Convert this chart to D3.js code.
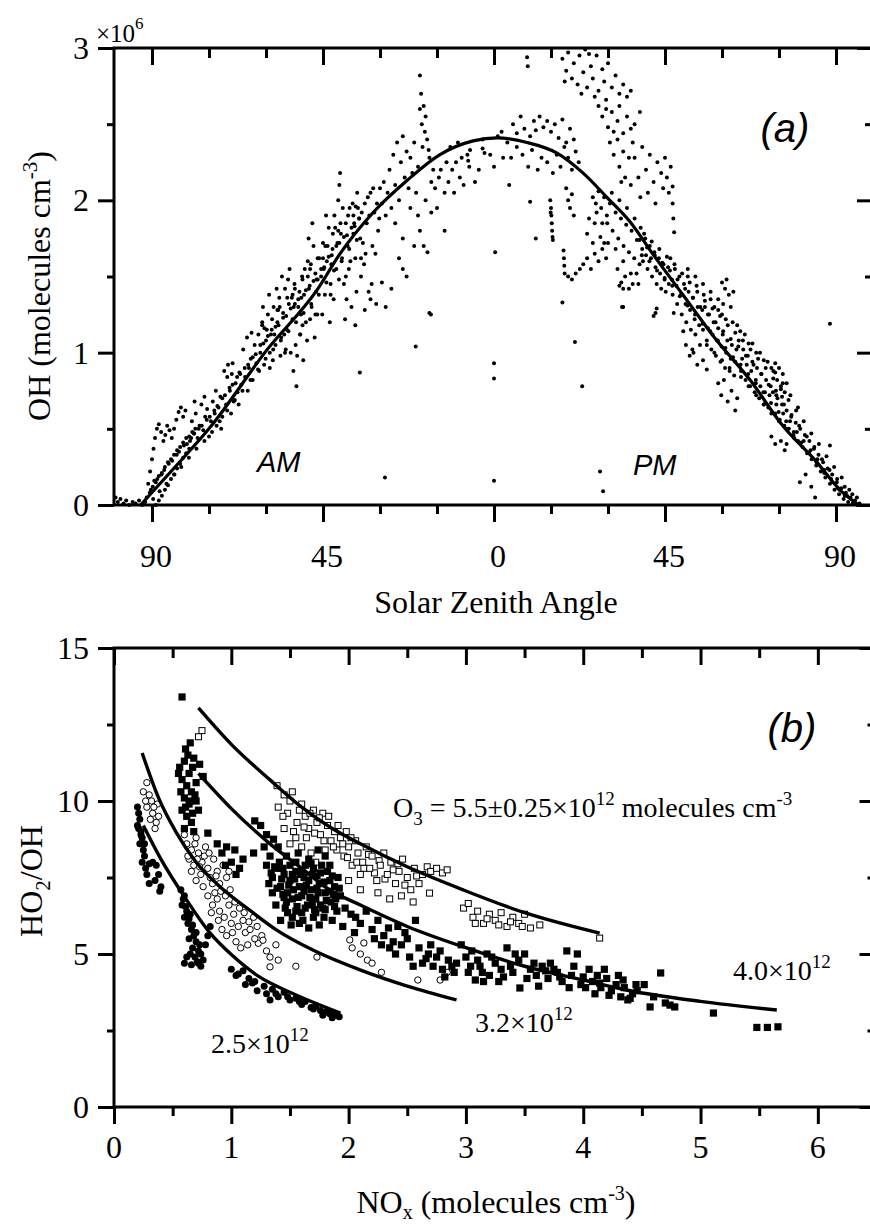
<!DOCTYPE html>
<html>
<head>
<meta charset="utf-8">
<script src="https://cdn.jsdelivr.net/npm/d3@7"></script>
<style>
  html, body { margin: 0; padding: 0; background: #fff; overflow: hidden; }
  svg { display: block; }
  svg text { font-family: "Liberation Serif", "Times New Roman", serif; fill: #000; }
</style>
</head>
<body>
<svg id="chart" width="870" height="1228"></svg>
<script>
const SERIF = "Liberation Serif, Times New Roman, serif";
const SANS = "Liberation Sans, Arial, sans-serif";

// ---- panel (a): OH (1e6 molecules cm-3) vs solar zenith angle; AM angles stored negative ----
const amPoints = [
  [-99.6,0.05],[-99,0.02],[-98.3,0.04],[-97.5,0.01],[-96.8,0.03],[-96,0.0],[-95.1,0.02],[-94.3,0.01],[-93.4,0.03],[-92.6,0.0],[-91.8,0.02],
  [-89,0.0],[-88.2,0.03],[-87.4,0.06],[-86.6,0.1],[-85.8,0.13],[-85,0.17],[-84.2,0.2],[-83.4,0.24],[-82.6,0.27],[-81.8,0.31],[-81,0.34],[-80.2,0.37],
  [-91.4,0.05],[-90.6,0.08],[-89.8,0.12],[-89,0.15],[-88.2,0.19],[-87.4,0.21],[-86.6,0.25],[-85.8,0.28],[-85,0.3],[-84.2,0.33],[-83.4,0.36],[-82.6,0.38],[-81.8,0.41],[-81,0.44],[-80.2,0.45],[-79.4,0.48],[-78.6,0.5],
  [-91,0.14],[-90.5,0.22],[-90,0.3],[-89.6,0.37],[-89.2,0.44],[-88.7,0.5],[-88.2,0.53],[-87.6,0.48],[-87,0.42],[-86.5,0.46],[-86,0.52],[-85.4,0.49],[-84.8,0.44],[-84.2,0.5],[-83.6,0.56],[-83,0.61],[-82.4,0.64],[-81.8,0.58],[-81.2,0.62],
  [-80,0.42],[-79.5,0.55],[-79,0.47],[-78.5,0.6],[-78,0.44],[-77.5,0.52],[-77,0.66],[-76.5,0.49],[-76,0.58],[-75.5,0.63],[-75,0.45],[-74.5,0.55],[-74,0.68],[-73.5,0.6],[-73,0.52],[-72.5,0.64],[-72,0.71],[-71.5,0.58],[-71,0.88],[-70.5,0.66],[-70,0.92],[-69.5,0.75],[-69,0.86],[-68.5,0.68],[-68,0.8],[-67.5,0.74],[-67,0.87],[-66.5,0.79],[-66,1.02],[-65.5,0.84],[-65,1.1],[-64.5,0.9],[-64,0.96],[-63.5,0.82],[-63,1.05],[-62.5,0.93],[-62,1.12],
  [-78.8,0.68],[-76.2,0.71],[-73.2,0.75],[-71.8,0.5],[-69.2,0.6],[-67.2,0.66],[-64.8,0.75],[-63.8,1.13],[-70.2,0.84],[-68.8,0.93],
  [-61.5,1.0],[-61,1.18],[-60.5,0.92],[-60,1.08],[-59.5,1.25],[-59,1.0],[-58.5,1.15],[-58,1.3],[-57.5,1.05],[-57,1.2],[-56.5,1.36],[-56,1.1],[-55.5,1.26],[-55,1.42],[-54.5,1.15],[-54,1.32],[-53.5,1.0],[-53,1.22],[-52.5,1.45],[-52,0.78],[-51.5,1.3],[-51,1.12],[-50.5,1.5],[-50,1.38],[-49.5,1.2],[-49,1.6],[-48.5,1.44],[-48,1.3],[-47.5,1.7],[-47,1.52],[-46.5,1.25],[-46,1.62],
  [-60.8,1.3],[-59.2,1.38],[-58.2,0.95],[-57.2,1.42],[-56.2,0.98],[-55.2,1.12],[-54.2,1.48],[-53.2,1.36],[-52.2,1.05],[-51.2,1.4],[-50.2,0.95],[-49.2,1.08],[-48.2,1.58],[-47.2,1.1],[-52.8,0.88],[-51.8,0.98],[-50.8,1.25],[-49.8,1.55],[-48.8,1.75],[-47.8,1.85],[-46.8,1.4],[-53.8,1.55],[-55.8,1.5],[-57.8,1.12],[-59.8,1.15],[-61.8,0.88],[-56.8,1.28],[-54.8,1.02],[-52.4,1.32],[-50.4,1.18],[-48.4,1.22],[-46.4,1.48],
  [-45.5,1.5],[-45,1.72],[-44.5,1.38],[-44,1.6],[-43.5,1.82],[-43,1.45],[-42.5,1.68],[-42,1.9],[-41.5,1.55],[-41,2.0],[-40.7,2.1],[-40.5,2.18],[-40.3,1.78],[-40,1.62],[-39.5,1.45],[-39,1.85],[-38.5,1.7],[-38,1.95],[-37.5,1.3],[-37,1.78],[-36.5,1.62],[-36,2.05],[-35.5,1.88],[-35,1.5],[-34.5,1.72],[-34,1.98],[-33.5,1.85],[-33,1.4],[-32.5,2.05],[-32,1.7],[-31.5,1.92],[-31,1.32],[-30.5,1.8],[-30,2.08],
  [-45.2,1.25],[-44.2,1.9],[-43.2,1.2],[-42.2,1.35],[-41.2,1.72],[-39.2,1.22],[-38.2,1.55],[-37.2,1.98],[-36.2,1.4],[-35.2,1.75],[-34.2,1.58],[-33.2,2.02],[-32.2,1.45],[-31.2,1.65],[-30.2,1.88],[-44.8,1.55],[-43.8,1.7],[-42.8,1.58],[-41.8,1.82],[-40.8,1.48],[-39.8,1.95],[-38.8,1.35],[-37.8,1.6],[-36.8,1.85],[-35.8,1.95],[-34.8,1.92],[-33.8,1.65],[-32.8,1.9],[-31.8,2.08],[-30.8,1.98],[-35.3,0.87],[-36.5,1.18],[-34,1.28],[-32.5,1.35],[-29.5,1.46],[-28.5,1.3],
  [-29.5,1.98],[-29,2.12],[-28.5,1.9],[-28,2.05],[-27.5,2.2],[-27,1.95],[-26.5,2.3],[-26,2.1],[-25.5,2.38],[-25,2.0],[-24.5,2.25],[-24,2.42],[-23.5,2.15],[-23,2.32],[-22.5,2.08],[-22,2.28],[-21.5,2.18],[-21,2.38],[-20.5,2.05],[-20,2.22],[-19.5,2.82],[-19.5,2.6],[-19.2,2.7],[-19,2.5],[-18.8,2.35],[-18.5,2.62],[-18.2,2.45],[-18,2.55],[-17.6,2.4],[-17.2,2.33],[-17,2.28],[-16.5,2.12],[-16,2.2],
  [-28.7,0.18],[-27,1.42],[-25,1.62],[-24,1.55],[-23,1.5],[-19.5,1.8],[-18.5,1.7],[-17.5,1.66],[-16.6,1.25],[-20.6,1.04],[-13,1.8],[-26,1.85],[-24,1.75],[-22,1.95],[-21,1.7],[-20,1.9],[-18,2.0],[-16.5,1.92],[-15,1.95],[-14.5,2.15],[-17,1.26],
  [-15.5,2.08],[-14,2.2],[-13,2.05],[-12.5,2.25],[-12,2.12],[-11,2.2],[-10.5,2.05],[-10,2.25],[-9,2.15],[-8.5,2.28],[-8,2.1],[-7,2.3],[-6.8,2.26],[-6.5,2.22],[-6.3,2.33],[-5,2.12],[-4,2.2],[-3,2.4],[-3,2.34],[-2.5,2.31],[-1,2.3],[0,2.22],[-11.5,2.35],[-9.5,2.38],
  [0,0.93],[0,0.83],[0,0.16],[0.3,1.66],[2.4,2.28]
];
// dense core of the AM band, close to the fitted curve
const amCore = [
  [-90.3,0.1],[-89.7,0.04],[-89.4,0.16],[-88.6,0.17],[-88,0.09],[-87.5,0.2],[-86.8,0.23],[-86.2,0.14],[-85.6,0.27],
  [-84.7,0.29],[-84.1,0.2],[-83.5,0.33],[-82.9,0.35],[-82.3,0.25],[-81.6,0.39],[-80.8,0.4],[-80.3,0.31],[-79.7,0.44],
  [-78.9,0.47],[-78.3,0.37],[-77.7,0.5],[-76.9,0.52],[-76.2,0.42],[-75.6,0.56],[-74.8,0.58],[-74.2,0.48],[-73.6,0.62],
  [-72.8,0.65],[-72.2,0.55],[-71.5,0.7],[-70.8,0.72],[-70.2,0.62],[-69.6,0.77],[-68.8,0.79],[-68.2,0.69],[-67.6,0.84],
  [-66.8,0.86],[-66.2,0.75],[-65.6,0.9],[-64.7,0.92],[-64.1,0.82],[-63.5,0.97],[-62.7,0.99],[-62.1,0.89],[-61.5,1.05],
  [-60.7,1.06],[-60.1,0.96],[-59.5,1.11],[-58.7,1.12],[-58.1,1.02],[-57.5,1.17],[-56.7,1.18],[-56.1,1.08],[-55.5,1.23],
  [-54.7,1.24],[-54.1,1.14],[-53.5,1.29],[-52.7,1.3],[-52.1,1.2],[-51.5,1.35],[-50.7,1.36],[-50.1,1.26],[-49.5,1.41],
  [-48.7,1.42],[-48.1,1.32],[-47.5,1.47],[-46.7,1.48],[-46.1,1.38],[-45.5,1.55],[-44.7,1.56],[-44.1,1.46],[-43.5,1.63],
  [-42.7,1.64],[-42.1,1.54],[-41.5,1.7],[-40.7,1.72],[-40.1,1.6],[-39.5,1.76],[-38.7,1.77],[-38.1,1.68],[-37.5,1.82],
  [-36.7,1.83],[-36.1,1.74],[-35.5,1.88],
  [-61,1.2],[-59,0.9],[-57,1.28],[-55,1.0],[-53,1.38],[-51,1.12],[-49,1.5],[-47,1.25],[-45,1.62],[-43,1.38],[-41,1.8],[-39,1.5],[-37,1.9],[-35,1.62],
  [-60.4,1.16],[-58.4,1.22],[-56.4,1.3],[-54.4,1.36],[-52.4,1.42],[-50.4,1.48],[-48.4,1.55],[-46.4,1.62],[-44.4,1.7],[-42.4,1.78],[-40.4,1.85],[-38.4,1.9],[-36.4,1.96]
];

const pmPoints = [
  [1,2.42],[2,2.45],[3.5,2.38],[5,2.5],[6,2.44],[7,2.55],[8,2.47],[8.7,2.94],[8.9,2.88],[9.5,2.42],[10.5,2.52],[11,2.46],[12,2.55],[13,2.48],[14,2.52],[15,2.45],[16,2.5],[17,2.41],[18,2.53],[19,2.38],[20,2.47],[21,2.4],
  [7.5,2.3],[9,2.22],[10,2.33],[11.5,2.2],[12.5,2.28],[14,2.25],[15.5,2.18],[16.5,2.3],[17.5,2.22],[18.5,2.35],[19.5,2.28],[20.5,2.2],[21.5,2.32],[22.3,2.25],[4,2.1],[6,2.35],[9.5,1.99],[11,1.75],[4.5,2.28],
  [18,2.93],[19,2.85],[19.5,2.97],[20.5,2.8],[21,2.9],[22,2.76],[22.5,2.95],[23.5,2.84],[24,2.99],[24.5,2.74],[25.5,2.88],[26,2.8],[27,2.95],[27.5,2.72],[28.5,2.86],[29,2.78],[30,2.9],[31,2.74],[32,2.82],[33,2.7],[34,2.76],[35,2.68],[36,2.72],[18.6,2.78],[23,2.7],[25,2.96],[26.5,2.68],[29.5,2.66],
  [27.5,2.62],[28.5,2.55],[29.5,2.6],[30,2.48],[31,2.58],[31.5,2.45],[32.5,2.52],[33,2.62],[34,2.44],[35,2.55],[36,2.47],[37,2.5],[38.4,2.58],
  [30.5,2.38],[31.5,2.3],[32.5,2.4],[33,2.22],[34,2.32],[34.5,2.15],[35.5,2.28],[36,2.1],[36.5,2.38],[33.5,2.12],
  [37,2.28],[38,2.15],[39,2.35],[40,2.2],[41,2.3],[42,2.12],[43,2.25],[44,2.18],[44.5,2.08],[45,2.28],[45.5,2.15],[46,2.05],[46.5,2.22],[47,2.09],[47,1.98],[47.2,1.88],[47.4,1.79],[38.5,2.02],[40.5,2.05],[42.5,1.98],
  [14.8,2.0],[15,1.95],[15.1,1.9],[15.2,1.85],[15.3,1.8],[15.4,1.76],[15.5,1.74],[14.9,1.92],
  [19,2.08],[19.5,2.0],[20,1.95],[20.5,2.04],[21,1.9],
  [18.3,1.67],[18.4,1.62],[18.5,1.57],[18.6,1.52],[19.5,1.5],[20.5,1.48],[21.5,1.52],[22.6,1.55],[18,1.33],
  [23.5,1.58],[24.5,1.62],[25.5,1.55],[26.5,1.65],[27.5,1.6],[28.5,1.68],[29.5,1.62],
  [24.5,1.78],[25,1.88],[26,1.72],[26.5,1.85],[27,1.92],[28,1.76],[28.5,1.85],[29,1.72],[29.7,1.9],
  [26,2.02],[26.8,1.98],[27.5,2.06],[28.2,1.95],[29,2.02],[29.8,1.85],[30.5,1.98],[31.2,1.8],[32,1.92],[32.7,1.75],[33.4,1.88],[34.1,1.7],[34.8,1.84],[35.5,1.66],[36.2,1.8],[36.9,1.62],[37.6,1.74],[38.3,1.58],[31,2.05],[33,2.0],[35,1.95],[37,1.88],[30,1.72],[32,1.68],[34,1.6],[36,1.52],[38,1.45],
  [32.5,1.55],[33.5,1.46],[34.5,1.5],[35.5,1.42],[36.5,1.45],[37.5,1.52],
  [34,1.42],[34,1.3],[33.7,1.3],[33,1.44],[42.8,1.29],[42.5,1.26],[42,1.24],[21.3,1.07],[23.2,0.78],[27.9,0.22],[28.7,0.09],
  [38.6,1.82],[39.2,1.6],[39.8,1.75],[40.4,1.55],[41,1.7],[41.6,1.5],[42.2,1.66],[42.8,1.45],[43.4,1.62],[44,1.42],[44.6,1.58],[45.2,1.4],[45.8,1.56],[39,1.68],[40,1.64],[41.3,1.62],[42.5,1.56],[43.7,1.52],[44.9,1.48],[46,1.45],
  [46.4,1.62],[47,1.38],[47.6,1.55],[48.2,1.32],[48.8,1.5],[49.4,1.25],[50,1.45],[50.6,1.2],[51.2,1.4],[51.8,1.15],[52.4,1.36],[53,1.12],[53.6,1.3],[54.2,1.05],[54.8,1.28],[46.8,1.48],[48,1.44],[49.2,1.38],[50.4,1.32],[51.6,1.28],[52.8,1.22],[54,1.18],[55,1.15],[47.3,1.26],[49.8,1.14],[52.2,1.02],[51,1.5],[53.3,1.44],[55.2,1.38],
  [50.5,1.05],[51.5,0.98],[52.5,1.0],[53.5,0.92],[55,0.95],[56,0.89],
  [55.5,1.3],[56,1.08],[56.6,1.25],[57.2,1.02],[57.8,1.2],[58.4,0.98],[59,1.16],[59.6,0.94],[60.2,1.12],[60.8,0.9],[61.4,1.08],[62,0.88],[62.6,1.05],[63.2,0.85],[63.8,1.02],[56.3,1.16],[57.5,1.12],[58.7,1.08],[59.9,1.04],[61.1,1.0],[62.3,0.96],[63.5,0.94],[57,1.35],[58,1.3],[59,1.28],[60,1.25],[61,1.22],[60.3,1.32],[60.8,1.42],[61.2,1.48],[61.8,1.38],[62.3,1.3],[62.8,1.2],[63,1.4],[60,1.46],
  [59,0.8],[59.8,0.72],[60.5,0.82],[61.5,0.68],[62.5,0.75],[63.5,0.62],[64,0.7],
  [64.4,1.08],[65,0.88],[65.6,1.02],[66.2,0.82],[66.8,0.98],[67.4,0.78],[68,0.94],[68.6,0.74],[69.2,0.9],[69.8,0.7],[70.4,0.86],[71,0.66],[71.6,0.82],[72.2,0.64],[72.8,0.78],[65.3,0.96],[66.5,0.92],[67.7,0.88],[68.9,0.82],[70.1,0.78],[71.3,0.74],[72.5,0.72],[64.8,1.14],[67,1.06],[69,1.0],[71,0.95],[73,0.9],
  [73.5,0.88],[74,0.93],[74.5,0.82],[75,0.9],[75.5,0.78],[76,0.86],[76.5,0.74],[77,0.8],[74.2,0.75],[75.8,0.71],
  [73.4,0.74],[74,0.6],[74.6,0.7],[75.2,0.56],[75.8,0.66],[76.4,0.52],[77,0.62],[77.6,0.5],[78.2,0.58],[78.8,0.46],[79.4,0.54],[80,0.42],[74.3,0.66],[76.1,0.6],[77.9,0.55],[79.7,0.48],
  [73,0.45],[74,0.4],[75.5,0.42],[76.5,0.36],[77,0.4],
  [80.6,0.5],[81.2,0.38],[81.8,0.46],[82.4,0.34],[83,0.42],[83.6,0.3],[84.2,0.37],[84.8,0.26],[85.4,0.33],[86,0.22],[86.6,0.28],[87.2,0.18],[87.8,0.24],[88.4,0.14],[89,0.2],[89.6,0.1],[90.2,0.15],[90.8,0.07],[91.4,0.11],[92,0.04],[92.6,0.08],[93.2,0.02],[93.8,0.05],[94.4,0.01],[95,0.03],[95.6,0.0],[96.2,0.01],
  [81.5,0.42],[83.3,0.36],[85.1,0.3],[86.9,0.23],[88.7,0.17],[90.5,0.11],[92.3,0.06],
  [80.5,0.15],[82,0.2],[83.5,0.12],[84.5,0.05],[88.4,1.19],[88.4,0.39]
];
// dense core of the PM band
const pmCore = [
  [38.3,1.74],[38.9,1.64],[39.5,1.78],[40.3,1.69],[40.9,1.6],[41.5,1.73],[42.3,1.64],[42.9,1.54],[43.5,1.68],
  [44.3,1.59],[44.9,1.49],[45.5,1.63],[46.3,1.54],[46.9,1.44],[47.5,1.58],[48.3,1.48],[48.9,1.37],[49.5,1.52],
  [50.3,1.42],[50.9,1.31],[51.5,1.46],[52.3,1.36],[52.9,1.25],[53.5,1.4],[54.3,1.3],[54.9,1.19],[55.5,1.34],
  [56.3,1.25],[56.9,1.14],[57.5,1.29],[58.3,1.2],[58.9,1.08],[59.5,1.24],[60.3,1.14],[60.9,1.03],[61.5,1.18],
  [62.3,1.09],[62.9,0.97],[63.5,1.13],[64.3,1.04],[64.9,0.92],[65.5,1.08],[66.3,0.98],[66.9,0.86],[67.5,1.02],
  [68.3,0.92],[68.9,0.8],[69.5,0.96],[70.3,0.86],[70.9,0.74],[71.5,0.9],[72.3,0.79],[72.9,0.67],[73.5,0.83],
  [74.3,0.72],[74.9,0.61],[75.5,0.76],[76.3,0.66],[76.9,0.55],[77.5,0.69],[78.3,0.59],[78.9,0.48],[79.5,0.62],
  [80.3,0.52],[80.9,0.41],[81.5,0.55],[82.3,0.45],[82.9,0.34],[83.5,0.47],[84.3,0.38],[84.9,0.28],[85.5,0.4],
  [86.3,0.3],[86.9,0.21],[87.5,0.32],[88.3,0.23],[88.9,0.15],[89.5,0.25],[90.3,0.17],[90.9,0.1],[91.5,0.18],
  [92.3,0.12],[92.9,0.06],[93.5,0.1],[94.3,0.07],[94.9,0.02],[95.5,0.05],
  [51,1.55],[53,1.5],[55,1.45],[57,1.4],[59,1.35],[56,1.05],[58,1.0],[60,0.95],[62,0.9],[64,1.18],[66,1.12],[68,1.06],[70,1.0],[72,0.94],[74,0.87],[76,0.8],[78,0.72],[80,0.64],
  [65,0.84],[67,0.78],[69,0.72],[71,0.66],[73,0.6],[75,0.55],[77,0.5],[79,0.44]
];

// fitted diurnal curve
const fitAngle = [-93,-85,-74.7,-59.7,-46.6,-40.5,-31.8,-22.9,-14.2,-5.5,0.8,8.7,16.6,23.4,29.7,35.8,42,49.7,58,67.4,76,85,91,96];
const fitOH    = [0,0.22,0.51,1.02,1.41,1.65,1.92,2.13,2.3,2.39,2.41,2.38,2.31,2.18,2.02,1.86,1.64,1.38,1.1,0.82,0.52,0.28,0.1,0];

// ---- panel (b): HO2/OH vs NOx ----
const filledCircles = [
  [0.2,9.8],[0.21,9.6],[0.22,9.4],[0.2,9.2],[0.23,9.0],[0.24,8.8],[0.22,8.6],[0.25,8.4],[0.26,8.2],[0.24,8.0],[0.27,7.8],[0.3,7.95],[0.33,8.0],[0.36,7.9],[0.38,7.6],[0.35,7.4],[0.4,7.2],[0.39,7.05],[0.28,7.6],[0.3,7.3],
  [0.57,7.1],[0.6,6.9],[0.58,6.6],[0.62,6.4],[0.6,6.2],[0.65,6.3],[0.63,6.0],[0.66,5.8],[0.68,5.6],[0.64,5.5],[0.7,5.4],[0.67,5.2],[0.72,5.1],[0.69,4.9],[0.74,5.0],[0.6,4.7],[0.62,4.9],[0.76,4.8],[0.78,5.3],[0.8,5.6],[0.82,5.9],[0.72,4.7],[0.66,4.65],[0.74,4.6],
  [0.61,6.55],[0.64,6.15],[0.67,5.95],[0.7,5.7],[0.73,5.3],[0.65,5.0],[0.71,4.75],[0.59,6.8],[0.23,8.9],[0.26,8.6],[0.21,9.1],
  [1.0,4.5],[1.04,4.3],[1.1,4.45],[1.15,4.2],[1.2,4.1],[1.22,3.8],[1.28,3.95],[1.3,3.7],[1.35,3.85],[1.4,3.6],[1.45,3.75],[1.5,3.5],[1.55,3.55],[1.6,3.35],[1.63,3.45],[1.68,3.25],[1.72,3.3],[1.76,3.15],[1.8,3.1],[1.84,3.05],[1.88,3.0],[1.92,2.95],[1.86,2.92],[1.78,3.0],[1.12,4.0],[1.33,3.5],
  [1.06,4.35],[1.18,4.05],[1.38,3.7],[1.48,3.6],[1.58,3.45],[1.7,3.2],[1.82,3.15],[1.9,3.02]
];
const openCircles = [
  [0.28,10.6],[0.25,10.3],[0.3,10.2],[0.32,10.0],[0.37,9.9],[0.28,9.8],[0.33,9.6],[0.31,9.4],[0.36,9.3],[0.35,9.1],[0.38,9.5],[0.27,10.0],[0.34,9.8],
  [0.6,8.9],[0.62,8.6],[0.66,8.4],[0.7,8.8],[0.64,8.1],[0.68,7.9],[0.72,8.3],[0.75,8.0],[0.78,8.5],[0.8,7.8],[0.74,7.6],[0.7,7.4],[0.82,7.5],[0.85,8.1],[0.88,7.7],[0.9,7.3],[0.93,7.9],[0.96,7.5],[0.98,7.7],[0.66,7.7],[0.76,7.2],[0.86,7.0],
  [0.63,8.2],[0.69,8.6],[0.73,7.85],[0.77,8.2],[0.81,8.3],[0.84,7.3],[0.87,7.55],[0.91,7.05],[0.95,6.9],[0.99,7.1],[1.03,6.7],[1.07,6.5],[1.11,6.35],[1.15,6.05],[1.19,6.2],[1.23,5.35],[1.01,5.7],[0.89,6.1],[0.83,6.35],[0.71,8.1],
  [0.8,6.9],[0.84,6.6],[0.88,6.8],[0.9,6.4],[0.94,6.2],[0.98,6.6],[1.0,6.0],[1.02,6.3],[1.06,5.9],[1.1,6.1],[1.12,5.7],[1.16,5.8],[1.2,5.5],[1.22,5.9],[1.26,5.6],[0.92,5.8],[0.96,5.6],[1.04,5.4],[1.08,5.2],[1.14,5.3],
  [1.27,5.45],[1.3,5.1],[1.33,4.9],[1.38,5.3],[1.4,4.8],[1.33,4.58],[1.73,4.9],[2.01,5.46],[2.03,5.2],[2.13,5.36],[2.1,5.0],[2.16,4.8],[2.2,4.7],[2.28,4.4],[2.59,4.15],[2.78,4.15],[2.84,4.4],[1.55,4.6]
];
const filledSquares = [
  [0.58,13.4],
  [0.65,11.9],[0.63,11.5],[0.6,11.3],[0.67,11.1],[0.64,10.9],[0.58,10.7],[0.62,10.5],[0.7,10.6],[0.66,10.3],[0.6,10.1],[0.64,9.9],[0.7,10.0],[0.58,9.7],[0.62,9.5],[0.67,9.6],[0.73,11.2],[0.76,10.8],[0.55,10.9],[0.6,9.1],[0.68,9.0],[0.8,8.95],
  [0.61,11.7],[0.68,11.4],[0.56,11.1],[0.69,10.2],[0.57,10.3],[0.65,10.0],[0.72,9.7],[0.61,9.8],[0.66,9.3],
  [0.88,8.6],[0.92,8.3],[0.96,8.5],[1.0,8.0],[1.03,8.4],[1.07,7.8],[1.1,8.1],[0.95,7.9],[1.04,7.6],
  [1.2,9.35],[1.25,9.2],[1.3,8.9],[1.36,8.75],[1.4,8.5],[1.19,8.3],[1.28,8.5],[1.33,8.2],
  [1.3,7.9],[1.35,7.5],[1.4,7.8],[1.42,7.2],[1.45,7.6],[1.48,7.0],[1.5,7.4],[1.52,6.8],[1.55,7.7],[1.58,7.2],[1.6,6.9],[1.62,7.5],[1.65,6.6],[1.66,8.1],[1.68,7.1],[1.7,7.8],[1.72,6.8],[1.75,7.3],[1.78,6.5],[1.8,7.0],[1.82,7.7],[1.85,6.7],[1.88,7.2],[1.9,6.4],[1.93,6.9],[1.46,6.5],[1.52,6.2],[1.38,6.6],[1.42,6.1],[1.58,6.0],[1.7,6.2],[1.75,5.95],[1.55,8.0],[1.47,8.2],[1.8,8.2],[1.63,7.9],[1.73,7.55],[1.35,7.0],[1.45,6.85],[1.6,6.35],
  [1.32,7.3],[1.37,7.85],[1.43,7.45],[1.47,6.7],[1.5,7.9],[1.53,7.1],[1.56,6.55],[1.59,7.6],[1.61,6.1],[1.64,7.25],[1.67,6.85],[1.69,7.6],[1.71,6.45],[1.74,7.0],[1.77,7.9],[1.79,6.2],[1.81,6.75],[1.84,7.4],[1.87,6.95],[1.91,7.5],[1.41,8.0],[1.57,8.3],[1.74,8.4],[1.86,6.1],[1.66,5.85],[1.51,5.95],
  [1.34,7.65],[1.39,7.15],[1.44,6.95],[1.49,7.25],[1.54,7.45],[1.57,6.85],[1.62,7.05],[1.66,7.4],[1.69,6.65],[1.73,7.15],[1.76,6.6],[1.79,7.35],[1.83,7.05],[1.86,7.55],[1.89,6.8],[1.92,7.15],[1.44,7.8],[1.52,7.6],[1.6,7.7],[1.68,7.95],[1.76,7.65],[1.84,7.9],[1.48,6.35],[1.55,6.4],[1.63,6.5],[1.72,6.35],[1.8,6.45],[1.88,6.55],
  [1.95,5.9],[1.97,6.5],[2.02,6.3],[2.06,6.2],[2.1,6.0],[2.15,6.4],[2.2,5.8],[2.25,6.1],[2.3,5.6],[2.34,5.85],[2.38,5.4],[2.4,5.0],[2.45,5.3],[2.5,5.5],[2.52,4.9],[2.57,6.1],[2.6,5.2],[2.63,4.7],[2.68,5.0],[2.72,4.6],[2.75,4.9],[2.8,4.5],[2.85,4.8],[2.9,4.4],[2.96,5.3],[3.0,4.9],[3.05,5.1],[3.08,4.15],[3.12,4.6],[3.15,4.1],[3.18,5.0],[3.2,4.3],[3.25,4.7],[3.3,4.5],[3.35,5.2],[3.4,4.4],[3.45,4.8],[3.46,3.89],[3.5,5.0],[3.55,4.5],[3.6,4.3],[3.65,4.6],[3.7,4.2],[3.72,4.7],[3.78,4.4],[3.82,4.1],[3.86,5.1],[3.9,4.3],[3.95,5.0],[3.98,4.0],[4.05,4.5],[4.08,4.1],[4.12,4.3],[4.15,3.9],[4.2,4.2],[4.24,3.8],[4.28,4.0],[4.32,3.6],[4.35,3.9],[4.38,3.5],[4.42,3.7],[4.45,4.0],[4.52,4.0],[4.57,3.27],[4.6,3.6],[4.66,4.38],[4.7,3.4],[4.74,3.33],[4.78,3.27],[5.11,3.07],[5.48,2.6],[5.57,2.6],[5.66,2.62],
  [2.22,5.5],[2.35,5.2],[2.48,5.7],[2.55,4.6],[2.7,5.3],[2.82,4.25],[2.92,4.7],[3.02,4.4],[3.1,4.8],[3.28,4.1],[3.38,4.6],[3.52,4.2],[3.62,3.95],[3.75,4.5],[3.88,3.9],[4.0,4.25],[4.1,3.7],[4.18,4.5],[4.3,4.3],[4.4,3.55],
  [2.05,5.7],[2.28,5.3],[2.42,5.9],[2.66,4.85],[2.78,5.1],[2.88,4.6],[3.04,4.6],[3.14,4.4],[3.22,4.9],[3.32,4.25],[3.42,5.0],[3.58,4.7],[3.68,4.45],[3.8,4.25],[3.92,4.6],[4.02,3.9],[4.14,4.05],[4.22,3.65],[4.34,4.15],[4.46,3.8]
];
const openSquares = [
  [0.75,12.3],[0.72,12.1],[1.39,10.5],[1.45,10.2],[1.5,10.0],
  [1.4,9.8],[1.48,9.6],[1.52,10.3],[1.56,9.3],[1.6,9.9],[1.63,9.5],[1.66,9.1],[1.7,9.7],[1.73,9.3],[1.76,8.9],[1.78,9.6],[1.82,9.2],[1.85,8.7],[1.88,9.0],[1.9,8.4],[1.93,8.8],[1.96,8.2],[1.98,9.0],[2.0,8.5],[2.03,7.9],[2.06,8.7],[2.08,8.3],[1.55,8.8],[1.6,8.5],[1.45,9.1],[1.68,8.3],[1.72,8.0],[1.8,8.4],[1.5,8.6],
  [1.58,9.7],[1.62,9.15],[1.67,9.6],[1.71,8.95],[1.75,9.45],[1.79,8.7],[1.83,9.5],[1.87,8.5],[1.91,9.2],[1.95,8.6],[1.99,8.15],[2.02,8.8],[2.07,8.0],[2.13,7.8],[2.17,8.25],[2.22,7.65],[2.26,8.05],[2.31,7.45],[2.38,7.75],[2.42,7.95],[2.48,7.25],[2.58,7.55],[1.64,8.8],[1.53,9.0],[1.44,9.5],
  [2.1,7.6],[2.12,8.0],[2.15,8.5],[2.18,7.8],[2.2,8.2],[2.24,7.4],[2.27,7.9],[2.3,8.3],[2.33,7.6],[2.36,8.0],[2.4,7.3],[2.43,7.7],[2.46,8.1],[2.5,7.5],[2.53,7.1],[2.56,7.8],[2.6,7.3],[2.63,7.6],[2.67,7.85],[2.7,7.7],[2.75,7.8],[2.8,7.65],[2.84,7.75],[2.69,6.99],[2.25,7.0],[2.35,6.8],[2.45,6.9],[2.0,7.4],[2.1,7.1],[2.55,6.7],
  [2.98,6.5],[3.02,6.65],[3.06,6.2],[3.1,6.4],[3.15,6.0],[3.2,6.3],[3.25,6.1],[3.3,6.35],[3.35,5.9],[3.4,6.2],[3.45,6.0],[3.5,6.3],[3.55,5.85],[3.63,5.95],[4.14,5.52],
  [3.08,6.0],[3.18,6.15],[3.28,5.95],[3.38,6.05],[3.48,5.9]
];

// model curves for each O3 level
const curve25 = [[0.25,9.2],[0.4,8.1],[0.62,6.76],[0.82,5.68],[1.0,4.98],[1.24,4.25],[1.5,3.75],[1.93,3.07]];
const curve32 = [[0.24,11.57],[0.38,10.1],[0.534,8.95],[0.7,8.0],[0.904,7.2],[1.15,6.45],[1.387,5.78],[1.7,5.12],[2.097,4.48],[2.5,3.95],[2.92,3.5]];
const curve40 = [[0.72,10.9],[1.0,9.75],[1.33,8.6],[1.6,7.8],[1.84,7.09],[2.1,6.6],[2.5,5.9],[2.98,5.23],[3.5,4.6],[4.0,4.15],[4.4,3.8],[5.0,3.45],[5.65,3.17]];
const curve55 = [[0.72,13.04],[1.0,11.85],[1.33,10.69],[1.6,9.8],[1.84,9.15],[2.1,8.6],[2.5,7.85],[2.98,7.09],[3.5,6.35],[4.14,5.68]];

const xTicksA = [-90, -45, 0, 45, 90];
const xMinorA = [-75, -60, -30, -15, 15, 30, 60, 75];
const yTicksA = [0, 1, 2, 3];
const yMinorA = [0.5, 1.5, 2.5];
const xTicksB = [0, 1, 2, 3, 4, 5, 6];
const xMinorB = [0.5, 1.5, 2.5, 3.5, 4.5, 5.5];
const yTicksB = [0, 5, 10, 15];
const yMinorB = [2.5, 7.5, 12.5];

const svg = d3.select("#chart");

const xA = d3.scaleLinear().domain([-100, 100]).range([114, 874]);
const yA = d3.scaleLinear().domain([0, 3]).range([505, 48]);
const xB = d3.scaleLinear().domain([0, 6.5]).range([114, 876.5]);
const yB = d3.scaleLinear().domain([0, 15]).range([1107, 648]);

function txt(parent, size, family) {
  return parent.append("text")
    .attr("font-family", family || SERIF)
    .style("font-family", family || SERIF)
    .attr("font-size", size);
}

function frame(x, y) {
  const [x0, x1] = x.range(), [y0, y1] = y.range();
  svg.append("rect")
    .attr("x", x0).attr("y", y1).attr("width", x1 - x0).attr("height", y0 - y1)
    .attr("fill", "none").attr("stroke", "#000").attr("stroke-width", 3);
}

function ticks(x, y, major, minor, majorY, minorY) {
  const [x0, x1] = x.range(), [y0, y1] = y.range();
  const add = (axis, tr) => {
    const g = svg.append("g").attr("transform", tr).call(axis);
    g.select(".domain").remove();
    g.selectAll("text").remove();
    g.selectAll("line").attr("stroke", "#000").attr("stroke-width", 3);
  };
  // bottom ticks point out, top ticks point in
  add(d3.axisBottom(x).tickValues(major).tickSize(17).tickFormat(""), `translate(0,${y0})`);
  add(d3.axisBottom(x).tickValues(minor).tickSize(9).tickFormat(""), `translate(0,${y0})`);
  add(d3.axisTop(x).tickValues(major).tickSize(-17).tickFormat(""), `translate(0,${y1})`);
  add(d3.axisTop(x).tickValues(minor).tickSize(-10).tickFormat(""), `translate(0,${y1})`);
  // left ticks point out, right ticks point in
  add(d3.axisLeft(y).tickValues(majorY).tickSize(16).tickFormat(""), `translate(${x0},0)`);
  add(d3.axisLeft(y).tickValues(minorY).tickSize(7).tickFormat(""), `translate(${x0},0)`);
  add(d3.axisRight(y).tickValues(majorY).tickSize(-17).tickFormat(""), `translate(${x1},0)`);
  add(d3.axisRight(y).tickValues(minorY).tickSize(-9).tickFormat(""), `translate(${x1},0)`);
}

// ===== panel (a) =====
ticks(xA, yA, xTicksA, xMinorA, yTicksA, yMinorA);

const dotsA = svg.append("g").attr("fill", "#000");
[amPoints, amCore, pmPoints, pmCore].forEach(set => {
  dotsA.append("g").selectAll("circle").data(set).enter().append("circle")
    .attr("cx", d => xA(d[0])).attr("cy", d => yA(d[1])).attr("r", 2);
});

const fitLine = d3.line().x((d, i) => xA(fitAngle[i])).y(d => yA(d)).curve(d3.curveMonotoneX);
svg.append("path").datum(fitOH).attr("d", fitLine)
  .attr("fill", "none").attr("stroke", "#000").attr("stroke-width", 3.2);

frame(xA, yA);

// ===== panel (b) =====
ticks(xB, yB, xTicksB, xMinorB, yTicksB, yMinorB);

const gB = svg.append("g");
gB.append("g").selectAll("circle").data(filledCircles).enter().append("circle")
  .attr("cx", d => xB(d[0])).attr("cy", d => yB(d[1])).attr("r", 3.5).attr("fill", "#000");
gB.append("g").selectAll("circle").data(openCircles).enter().append("circle")
  .attr("cx", d => xB(d[0])).attr("cy", d => yB(d[1])).attr("r", 3.2)
  .attr("fill", "#fff").attr("stroke", "#000").attr("stroke-width", 1);
gB.append("g").selectAll("rect").data(openSquares).enter().append("rect")
  .attr("x", d => xB(d[0]) - 3).attr("y", d => yB(d[1]) - 3).attr("width", 6).attr("height", 6)
  .attr("fill", "#fff").attr("stroke", "#000").attr("stroke-width", 1);
gB.append("g").selectAll("rect").data(filledSquares).enter().append("rect")
  .attr("x", d => xB(d[0]) - 3.6).attr("y", d => yB(d[1]) - 3.6).attr("width", 7.2).attr("height", 7.2)
  .attr("fill", "#000");

const curveLine = d3.line().x(d => xB(d[0])).y(d => yB(d[1])).curve(d3.curveMonotoneX);
[curve25, curve32, curve40, curve55].forEach(c => {
  svg.append("path").datum(c).attr("d", curveLine)
    .attr("fill", "none").attr("stroke", "#000").attr("stroke-width", 3.4);
});

frame(xB, yB);

// ----- labels -----
const labels = svg.append("g");

xTicksA.forEach(v => txt(labels, 32).attr("x", xA(v) + 4).attr("y", 567).attr("text-anchor", "middle").text(Math.abs(v)));
yTicksA.forEach(v => txt(labels, 32).attr("x", 89).attr("y", yA(v) + 11).attr("text-anchor", "end").text(v));

const mult = txt(labels, 25).attr("x", 96).attr("y", 42);
mult.append("tspan").text("×10");
mult.append("tspan").attr("font-size", 17).attr("dy", -13).text("6");

txt(labels, 32).attr("x", 496).attr("y", 613).attr("text-anchor", "middle").text("Solar Zenith Angle");

const ohTitle = txt(labels, 32).attr("transform", "translate(50,286) rotate(-90)").attr("text-anchor", "middle");
ohTitle.append("tspan").text("OH (molecules cm");
ohTitle.append("tspan").attr("font-size", 21).attr("dy", -13).text("-3");
ohTitle.append("tspan").attr("dy", 13).text(")");

txt(labels, 40, SANS).attr("font-style", "italic").attr("x", 785).attr("y", 142).attr("text-anchor", "middle").text("(a)");
txt(labels, 29, SANS).attr("font-style", "italic").attr("x", 257).attr("y", 472).text("AM");
txt(labels, 29, SANS).attr("font-style", "italic").attr("x", 633).attr("y", 475).text("PM");

xTicksB.forEach(v => txt(labels, 32).attr("x", xB(v)).attr("y", 1158).attr("text-anchor", "middle").text(v));
yTicksB.forEach(v => txt(labels, 32).attr("x", 89).attr("y", yB(v) + 11).attr("text-anchor", "end").text(v));

const noxTitle = txt(labels, 32).attr("x", 496).attr("y", 1213).attr("text-anchor", "middle");
noxTitle.append("tspan").text("NO");
noxTitle.append("tspan").attr("font-size", 20).attr("dy", 6).text("x");
noxTitle.append("tspan").attr("dy", -6).text(" (molecules cm");
noxTitle.append("tspan").attr("font-size", 20).attr("dy", -13).text("-3");
noxTitle.append("tspan").attr("dy", 13).text(")");

const hoTitle = txt(labels, 32).attr("transform", "translate(42,881) rotate(-90)").attr("text-anchor", "middle");
hoTitle.append("tspan").text("HO");
hoTitle.append("tspan").attr("font-size", 21).attr("dy", 8).text("2");
hoTitle.append("tspan").attr("dy", -8).text("/OH");

txt(labels, 40, SANS).attr("font-style", "italic").attr("x", 792).attr("y", 742).attr("text-anchor", "middle").text("(b)");

const sciLabel = (x, y, mant) => {
  const t = txt(labels, 28).attr("x", x).attr("y", y);
  t.append("tspan").text(mant + "×10");
  t.append("tspan").attr("font-size", 19).attr("dy", -12).text("12");
};
sciLabel(733, 980, "4.0");
sciLabel(475, 1032, "3.2");
sciLabel(211, 1053, "2.5");

const o3 = txt(labels, 28).attr("x", 393).attr("y", 817);
o3.append("tspan").text("O");
o3.append("tspan").attr("font-size", 19).attr("dy", 8).text("3");
o3.append("tspan").attr("dy", -8).text(" = 5.5±0.25×10");
o3.append("tspan").attr("font-size", 19).attr("dy", -12).text("12");
o3.append("tspan").attr("dy", 12).text(" molecules cm");
o3.append("tspan").attr("font-size", 19).attr("dy", -12).text("-3");
</script>
</body>
</html>
